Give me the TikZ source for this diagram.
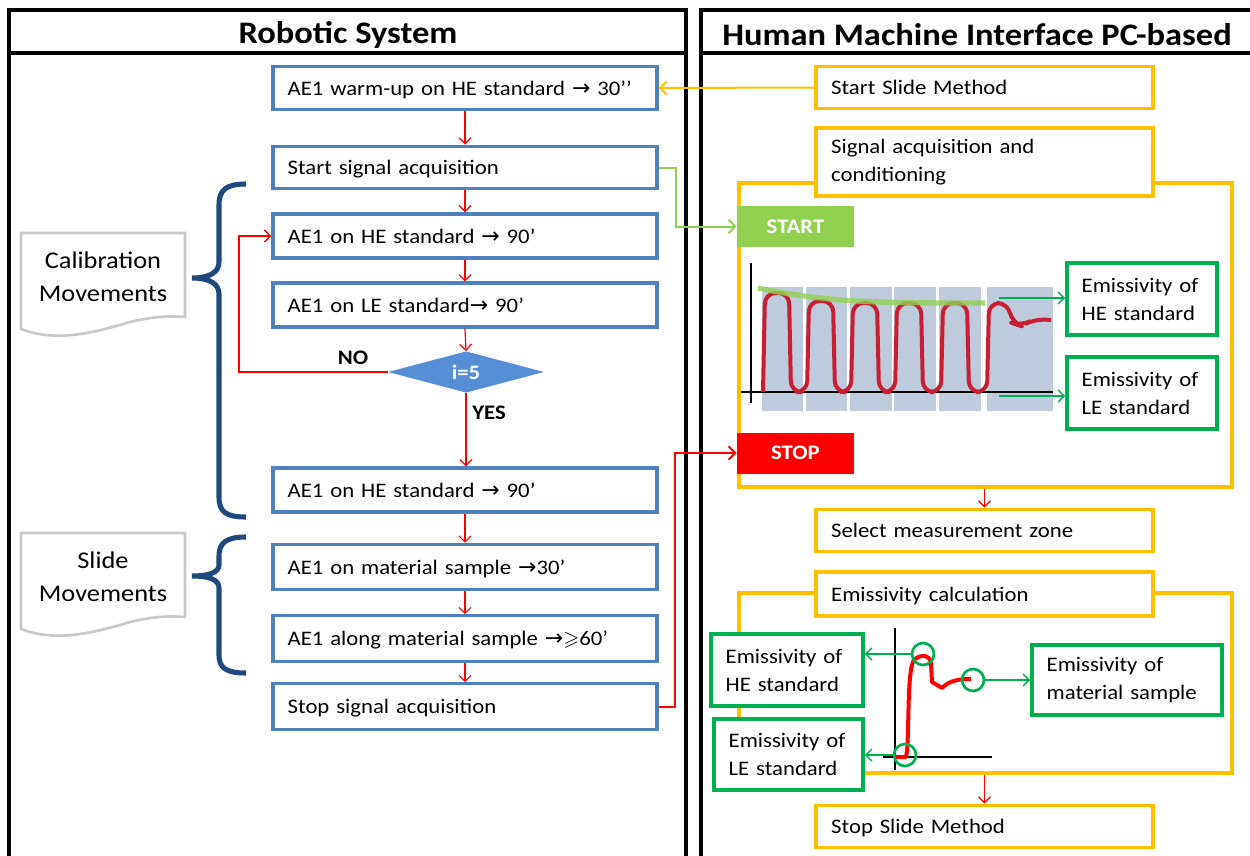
\documentclass[tikz,border=0pt]{standalone}
\usepackage{fontspec}
\setmainfont{Carlito}[FakeStretch=1.1]
\newfontfamily\arrf{DejaVu Sans}
\usepackage{amssymb}
\usetikzlibrary{arrows.meta,shapes.geometric}
\definecolor{boxblue}{RGB}{79,129,189}
\definecolor{ylw}{RGB}{255,192,0}
\definecolor{grn}{RGB}{0,176,80}
\definecolor{lgrn}{RGB}{146,208,80}
\definecolor{bracecol}{RGB}{31,73,125}
\definecolor{diafill}{RGB}{85,142,213}
\definecolor{barcol}{RGB}{190,203,220}
\definecolor{curvered}{RGB}{200,30,50}
\definecolor{docgray}{RGB}{200,200,200}
\definecolor{pured}{RGB}{255,0,0}
\newcommand\mainsz{\fontsize{15.5}{21}\selectfont}
\newcommand\titlesz{\fontsize{23.5}{27}\selectfont\bfseries}
\newcommand\docsz{\fontsize{18}{25}\selectfont}
\newcommand\rarr{{\arrf\fontsize{16.5}{16.5}\selectfont →}}
\tikzset{
  panel/.style={draw=black, line width=2.6pt},
  titlenode/.style={font=\titlesz, inner sep=0pt},
  bbox/.style={draw=boxblue, line width=2.4pt, fill=white, minimum width=288pt, minimum height=32pt, text width=266pt, inner xsep=11pt, inner ysep=0pt, align=left, font=\mainsz, text height=12.5pt, text depth=1.5pt},
  ybox/.style={draw=ylw, line width=2.4pt, fill=white, minimum width=252.75pt, text width=230pt, inner xsep=11pt, inner ysep=0pt, align=left, font=\mainsz},
  oneline/.style={text height=12.5pt, text depth=1.5pt},
  gbox/.style={draw=grn, line width=2.8pt, fill=white, align=left, inner xsep=11pt, inner ysep=0pt, font=\mainsz},
  cont/.style={draw=ylw, line width=2.4pt},
  sbox/.style={minimum width=87.75pt, minimum height=30.75pt, inner sep=0pt, text=white, font=\mainsz\bfseries},
  dia/.style={diamond, aspect=3.8, fill=diafill, minimum width=117pt, minimum height=31pt, inner sep=0pt, text=white, font=\mainsz\bfseries},
  rarrow/.style={-{Straight Barb[length=4.5pt,width=9pt]}, draw=pured, line width=0.9pt},
  garrow/.style={-{Straight Barb[length=4.5pt,width=9pt]}, draw=grn, line width=1.1pt},
  brace/.style={draw=bracecol, line width=3.8pt},
  doc/.style={draw=docgray, line width=2pt, fill=white},
  circ/.style={circle, draw=grn, line width=2pt, minimum size=16.5pt, inner sep=0pt},
  lbl/.style={font=\mainsz\bfseries, inner sep=0pt},
  doctext/.style={font=\docsz, align=center, inner sep=0pt}
}
\begin{document}
\begin{tikzpicture}[x=0.75pt,y=-0.75pt]
\useasboundingbox (0,0) rectangle (1250,856);
% panels
\draw[panel] (9,880) |- (686,10) -- (686,880);
\draw[panel] (9,53) -- (686,53);
\draw[panel] (701,880) |- (1270,10);
\draw[panel] (701,53) -- (1270,53);
\node[titlenode] (t1) at (348,35) {Robotic System};
\node[titlenode] (t2) at (977,35) {Human Machine Interface PC-based};

% containers
\node[cont, minimum width=369.75pt, minimum height=228pt, inner sep=0pt] (cont1) at (985.5,335) {};
\node[cont, minimum width=369.75pt, minimum height=135pt, inner sep=0pt] (cont2) at (985.5,683) {};

% docs
\draw[doc] (21,233) -- (185,233) -- (185,317) .. controls (170,316) and (155,316) .. (130,322) .. controls (90,334) and (55,342) .. (21,329) -- cycle;
\node[doctext] (cal) at (103,277) {Calibration\\Movements};
\draw[doc] (21,533) -- (185,533) -- (185,617) .. controls (170,616) and (155,616) .. (130,622) .. controls (90,634) and (55,642) .. (21,629) -- cycle;
\node[doctext] (sld) at (103,577) {Slide\\Movements};

% braces
\draw[brace] (246,184) .. controls (226,184) and (219,190) .. (219,205) -- (219,262) .. controls (219,272) and (210,278) .. (192,278) .. controls (210,278) and (219,284) .. (219,294) -- (219,497) .. controls (219,512) and (226,517) .. (246,517);
\draw[brace] (246,537) .. controls (226,537) and (219,543) .. (219,556) -- (219,565) .. controls (219,572) and (210,576) .. (192,576) .. controls (210,576) and (219,580) .. (219,588) -- (219,655) .. controls (219,668) and (226,673) .. (246,673);

% left boxes
\node[bbox] (b1) at (465,88) {AE1 warm-up on HE standard \rarr{} 30’’};
\node[bbox] (b2) at (465,167.5) {Start signal acquisition};
\node[bbox, minimum height=33pt] (b3) at (465,236) {AE1 on HE standard \rarr{} 90’};
\node[bbox, minimum height=33pt] (b4) at (465,305) {AE1 on LE standard\rarr{} 90’};
\node[dia] (d) at (466,372) {i=5};
\node[bbox, minimum height=33pt] (b5) at (465,490) {AE1 on HE standard \rarr{} 90’};
\node[bbox, minimum height=34pt] (b6) at (465,567) {AE1 on material sample \rarr{}30’};
\node[bbox, minimum height=34pt] (b7) at (465,638.5) {AE1 along material sample \rarr{}\ensuremath{\geqslant}60’};
\node[bbox, minimum height=34pt] (b8) at (465,706.5) {Stop signal acquisition};
\node[lbl] (no) at (353,358) {NO};
\node[lbl] (yes) at (489,413) {YES};

\draw[rarrow] (b1.south) -- (b2.north);
\draw[rarrow] (b2.south) -- (b3.north);
\draw[rarrow] (b3.south) -- (b4.north);
\draw[rarrow] (b4.south) -- (d.north);
\draw[rarrow] (d.south) -- (d.south |- b5.north);
\draw[rarrow] (b5.south) -- (b6.north);
\draw[rarrow] (b6.south) -- (b7.north);
\draw[rarrow] (b7.south) -- (b8.north);
\coordinate (loopc) at (239,372);
\draw[rarrow, line width=1.1pt] (d.west) -- (loopc) |- (b3.west);

% right boxes
\node[ybox, oneline, minimum height=31pt] (y1) at (984.5,87.5) {Start Slide Method};
\node[ybox, minimum height=51pt] (y2) at (984.5,162) {Signal acquisition and\\conditioning};
\node[ybox, oneline, minimum height=32pt] (y3) at (984.5,530.5) {Select measurement zone};
\node[ybox, oneline, minimum height=33pt] (y4) at (984.5,594) {Emissivity calculation};
\node[ybox, oneline, minimum height=32pt] (y5) at (984.5,826.5) {Stop Slide Method};

\node[sbox, fill=lgrn] (start) at (795.5,226.5) {START};
\node[sbox, fill=pured] (stop) at (795.5,453) {STOP};

% connectors between panels
\draw[-{Straight Barb[length=5pt,width=10pt]}, draw=ylw, line width=1.5pt] (y1.west) -- (b1.east);
\draw[-{Straight Barb[length=5pt,width=10pt]}, draw=lgrn, line width=1.5pt] (b2.east) -- ++(17,0) |- (start.west);
\draw[-{Straight Barb[length=5pt,width=10pt]}, draw=pured, line width=1.5pt] (b8.east) -- ++(16,0) |- (stop.west);

% top chart
\fill[barcol] (762,287) rectangle (803,411);
\fill[barcol] (806,287) rectangle (847,411);
\fill[barcol] (850,287) rectangle (892,411);
\fill[barcol] (894,287) rectangle (936,411);
\fill[barcol] (939,287) rectangle (981,411);
\fill[barcol] (987,287) rectangle (1053,411);
\draw[black, line width=1.1pt] (751,263) -- (751,403);
\draw[black, line width=1.1pt] (741,392) -- (1053,392);
\draw[curvered, line width=3pt, rounded corners=8pt, line join=round]
  (763,392) -- (765,293) -- (789,293) -- (791,392) -- (807,392) -- (809,301) -- (833,301) -- (835,392)
  -- (851,392) -- (853,303) -- (877,303) -- (879,392) -- (895,392) -- (897,303) -- (921,303) -- (923,392)
  -- (941,392) -- (943,303) -- (967,303) -- (969,392) -- (987,392) -- (989,303) -- (1008,303)
  -- (1012,323) -- (1021,326) -- (1035,319) -- (1051,320);
\draw[lgrn, line width=4pt, opacity=0.8] (758,288) .. controls (830,303) and (880,303) .. (985,303);
\node[gbox, minimum width=112.5pt, minimum height=54pt, text width=90.5pt] (g1) at (1142,299) {Emissivity of\\HE standard};
\node[gbox, minimum width=112.5pt, minimum height=54pt, text width=90.5pt] (g2) at (1142,393) {Emissivity of\\LE standard};
\coordinate (p1) at (999,298);
\coordinate (p2) at (999,396);
\draw[garrow] (p1) -- (p1 -| g1.west);
\draw[garrow] (p2) -- (p2 -| g2.west);

% bottom chart
\draw[black, line width=1.1pt] (895,628) -- (895,770);
\draw[black, line width=1.1pt] (883,757) -- (992,757);
\draw[pured, line width=3pt, line join=round] (896,757) -- (906,757) .. controls (910,740) and (906,665) .. (915,659) .. controls (922,654) and (930,655) .. (931,663) -- (932,682) -- (942,688) .. controls (950,680) and (960,679) .. (971,679);
\node[circ] (c1) at (923,654) {};
\node[circ] (c2) at (973,680) {};
\node[circ] (c3) at (905,755) {};
\node[gbox, minimum width=114pt, minimum height=54pt, text width=92pt] (g3) at (787,670) {Emissivity of\\HE standard};
\node[gbox, minimum width=111.75pt, minimum height=53.25pt, text width=89.75pt] (g4) at (788.5,754.5) {Emissivity of\\LE standard};
\node[gbox, minimum width=142.5pt, minimum height=52.5pt, text width=120.5pt] (g5) at (1127,680) {Emissivity of\\material sample};
\draw[garrow] (c1.west) -- (c1.west -| g3.east);
\draw[garrow] (c2.east) -- (c2.east -| g5.west);
\draw[garrow] (c3.west) -- (c3.west -| g4.east);

% right red arrows
\draw[rarrow] (cont1.south -| y3.north) -- (y3.north);
\draw[rarrow] (cont2.south -| y5.north) -- (y5.north);
\end{tikzpicture}
\end{document}
